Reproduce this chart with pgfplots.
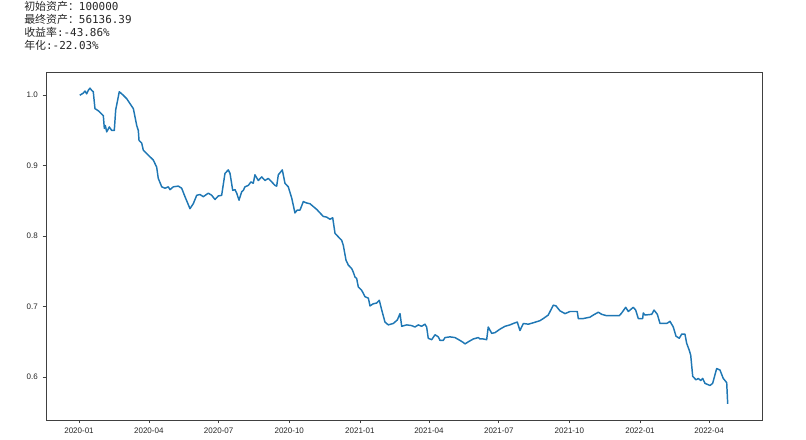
\documentclass[border=0pt]{standalone}
\usepackage{fontspec}
\setmainfont{Liberation Sans}
\setmonofont{DejaVu Sans Mono}
\newfontfamily\cjk{Noto Sans CJK SC}
\usepackage{pgfplots}
\pgfplotsset{compat=1.18}
\definecolor{mplblue}{HTML}{1F77B4}
\begin{document}
\begin{tikzpicture}
\begin{axis}[
  name=ax,
  scale only axis,
  width=537pt, height=261pt,
  xmin=-43, xmax=890,
  ymin=0.539, ymax=1.033,
  axis line style={draw=black!75, line width=0.6pt},
  tick pos=left,
  tick align=outside,
  major tick length=2.6pt,
  tick style={black!75, line width=0.5pt},
  xtick={0,91,182,274,366,456,547,639,731,821},
  xticklabels={2020-01,2020-04,2020-07,2020-10,2021-01,2021-04,2021-07,2021-10,2022-01,2022-04},
  ytick={0.6,0.7,0.8,0.9,1.0},
  yticklabels={0.6,0.7,0.8,0.9,1.0},
  ticklabel style={font=\fontsize{6}{7}\selectfont, text=black!85},
  /pgf/number format/assume math mode=true,
]
% 净值曲线 (days since 2020-01-01, net value)
\addplot[mplblue, line width=1.1pt, line join=round] table {
d v
1 1.000
5.6 1.003
7.8 1.006
10.0 1.002
12.1 1.007
14.3 1.010
16.5 1.007
18.6 1.005
20.8 0.981
25.1 0.978
31.7 0.971
33.0 0.953
34.3 0.957
36.1 0.948
39.5 0.955
42.6 0.950
46.0 0.950
47.8 0.979
52.5 1.005
57.7 1.000
62.2 0.995
66.5 0.988
70.8 0.981
73.0 0.969
75.2 0.957
77.3 0.950
78.2 0.936
81.7 0.932
83.8 0.922
90.3 0.915
96.8 0.908
101.2 0.898
103.3 0.882
107.8 0.870
112.1 0.868
116.4 0.870
118.6 0.866
122.9 0.870
129.4 0.871
133.8 0.868
138.1 0.856
144.6 0.839
148.9 0.846
153.4 0.858
157.7 0.859
162.0 0.856
168.5 0.861
172.9 0.858
177.2 0.852
181.5 0.857
185.9 0.858
190.2 0.889
194.5 0.894
196.8 0.889
200.3 0.865
203.3 0.866
205.5 0.861
208.5 0.851
212.0 0.863
214.1 0.865
216.3 0.870
220.6 0.872
224.1 0.877
227.1 0.875
229.3 0.887
233.6 0.879
238.1 0.884
242.4 0.879
246.7 0.882
251.1 0.877
255.4 0.872
257.6 0.871
259.7 0.887
264.9 0.894
268.4 0.875
272.7 0.870
277.2 0.854
281.4 0.833
284.4 0.837
288.0 0.837
292.3 0.849
296.7 0.847
301.0 0.846
305.3 0.842
309.7 0.838
314.0 0.833
318.3 0.828
322.7 0.827
327.0 0.824
330.6 0.826
333.6 0.804
337.9 0.799
342.3 0.794
344.4 0.787
347.9 0.766
350.9 0.759
355.3 0.754
357.4 0.749
359.6 0.742
361.8 0.740
363.9 0.728
368.4 0.723
372.7 0.714
377.0 0.712
379.2 0.701
383.5 0.704
387.9 0.705
391.3 0.709
394.5 0.695
398.7 0.678
403.0 0.674
409.5 0.676
414.8 0.681
418.3 0.690
420.5 0.672
427.0 0.674
433.5 0.673
437.8 0.671
442.1 0.674
446.5 0.672
450.8 0.675
453.0 0.671
455.1 0.655
459.6 0.653
463.9 0.660
468.2 0.657
470.4 0.652
474.7 0.652
476.9 0.656
483.4 0.657
489.9 0.656
496.4 0.652
500.8 0.649
503.0 0.647
507.3 0.650
513.8 0.654
520.3 0.656
522.5 0.654
526.8 0.654
531.2 0.653
533.3 0.671
537.8 0.662
542.1 0.663
548.6 0.668
555.1 0.672
561.6 0.674
565.9 0.676
571.1 0.678
574.6 0.666
579.0 0.676
585.5 0.675
592.0 0.677
600.7 0.680
605.0 0.683
611.5 0.688
618.0 0.702
621.5 0.701
626.7 0.694
633.3 0.690
639.8 0.693
649.3 0.693
650.6 0.683
657.1 0.683
665.9 0.685
670.2 0.688
676.7 0.692
681.1 0.689
687.6 0.687
696.2 0.687
704.0 0.687
707.2 0.691
712.4 0.699
715.8 0.693
722.3 0.699
725.4 0.695
728.8 0.683
734.5 0.683
735.3 0.691
737.5 0.688
746.3 0.689
749.3 0.695
753.6 0.689
757.1 0.676
765.8 0.676
770.1 0.679
774.4 0.671
777.9 0.658
782.2 0.655
785.4 0.661
789.6 0.661
791.8 0.648
795.2 0.638
797.1 0.631
799.7 0.601
804.0 0.596
807.0 0.598
810.1 0.595
812.7 0.598
815.7 0.591
822.2 0.588
825.7 0.591
830.9 0.612
835.2 0.610
839.5 0.598
844.0 0.592
845.3 0.562
};
\end{axis}
\node[anchor=north west, align=left, inner sep=0pt,
      font=\fontsize{8.2}{9.75}\selectfont\ttfamily, text=black!85]
  at ([xshift=-16.5pt, yshift=53pt]ax.north west)
  {{\cjk 初始资产：}100000\\
   {\cjk 最终资产：}56136.39\\
   {\cjk 收益率}:-43.86\%\\
   {\cjk 年化}:-22.03\%};
\pgfresetboundingbox
\path[use as bounding box] ([xshift=-34.5pt, yshift=-15pt]ax.south west)
  rectangle ([xshift=33pt, yshift=54pt]ax.north east);
\end{tikzpicture}
\end{document}
